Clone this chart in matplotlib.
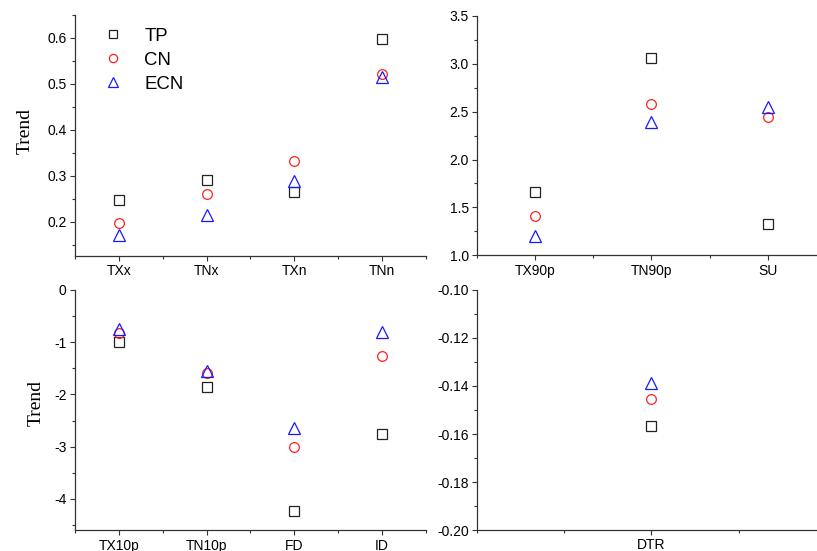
import matplotlib
matplotlib.use("Agg")
import matplotlib.pyplot as plt
from matplotlib.ticker import MultipleLocator, FormatStrFormatter

plt.rcParams["font.family"] = ["Liberation Sans", "DejaVu Sans"]
plt.rcParams["axes.unicode_minus"] = False

# ── Datos ───────────────────────────────────────────────────────────────────
series = ["TP", "CN", "ECN"]

cats_a = ["TXx", "TNx", "TXn", "TNn"]
tp_a   = [0.247, 0.290, 0.265, 0.597]
cn_a   = [0.196, 0.259, 0.333, 0.522]
ecn_a  = [0.170, 0.215, 0.289, 0.514]

cats_b = ["TX90p", "TN90p", "SU"]
tp_b   = [1.659, 3.055, 1.326]
cn_b   = [1.406, 2.580, 2.445]
ecn_b  = [1.204, 2.390, 2.550]

cats_c = ["TX10p", "TN10p", "FD", "ID"]
tp_c   = [-0.99, -1.85, -4.24, -2.76]
cn_c   = [-0.83, -1.59, -3.00, -1.26]
ecn_c  = [-0.75, -1.55, -2.64, -0.80]

cats_d = ["DTR"]
tp_d   = [-0.1565]
cn_d   = [-0.1454]
ecn_d  = [-0.1386]

ESTILOS = [
    dict(marker="s", color="#222222", ms=6.5),
    dict(marker="o", color="#ff2020", ms=7.0),
    dict(marker="^", color="#1a1aff", ms=8.0),
]

fig = plt.figure(figsize=(8.17, 5.51), dpi=100)


def panel(rect, cats, valores, ylim, major, minor, fmt, xlim=None, ylabel=None):
    ax = fig.add_axes(rect)
    x = list(range(len(cats)))
    for nombre, vals, est in zip(series, valores, ESTILOS):
        ax.plot(x, vals, linestyle="none", marker=est["marker"], ms=est["ms"],
                markerfacecolor="none", markeredgecolor=est["color"],
                markeredgewidth=0.9, label=nombre)
    ax.set_xticks(x)
    ax.set_xticklabels(cats)
    ax.xaxis.set_minor_locator(MultipleLocator(0.5))
    ax.set_xlim(xlim if xlim else (-0.5, len(cats) - 0.5))
    ax.set_ylim(*ylim)
    ax.yaxis.set_major_locator(MultipleLocator(major))
    ax.yaxis.set_minor_locator(MultipleLocator(minor))
    ax.yaxis.set_major_formatter(FormatStrFormatter(fmt))
    for s in ["top", "right"]:
        ax.spines[s].set_visible(False)
    for s in ["left", "bottom"]:
        ax.spines[s].set_color("#333333")
        ax.spines[s].set_linewidth(0.9)
    ax.tick_params(which="major", direction="out", length=3.5, width=0.8,
                   color="#333333", labelsize=10, pad=2.5)
    ax.tick_params(which="minor", direction="out", length=2, width=0.8,
                   color="#333333")
    if ylabel:
        ax.set_ylabel(ylabel, family=["Liberation Serif", "DejaVu Serif"],
                      fontsize=14)
    return ax


ax1 = panel([0.0918, 0.5354, 0.4296, 0.4374], cats_a, [tp_a, cn_a, ecn_a],
            (0.125, 0.65), 0.1, 0.05, "%.1f", ylabel="Trend")
ax1.yaxis.set_label_coords(-0.119, 0.52)
ax1.legend(loc="upper left", bbox_to_anchor=(0.081, 0.948), frameon=False,
           fontsize=13.4, handlelength=1.0, handletextpad=1.2,
           labelspacing=0.38, borderpad=0, borderaxespad=0, markerscale=0.85)

ax2 = panel([0.5838, 0.5366, 0.4272, 0.4348], cats_b, [tp_b, cn_b, ecn_b],
            (1.0, 3.5), 0.5, 0.25, "%.1f")

ax3 = panel([0.0918, 0.0376, 0.4296, 0.4361], cats_c, [tp_c, cn_c, ecn_c],
            (-4.6, 0), 1, 0.5, "%d", ylabel="Trend")
ax3.yaxis.set_label_coords(-0.085, 0.53)

ax4 = panel([0.5838, 0.0381, 0.4272, 0.4356], cats_d, [tp_d, cn_d, ecn_d],
            (-0.2, -0.1), 0.02, 0.01, "%.2f", xlim=(-1, 1))

fig.savefig("out.png", dpi=100)
